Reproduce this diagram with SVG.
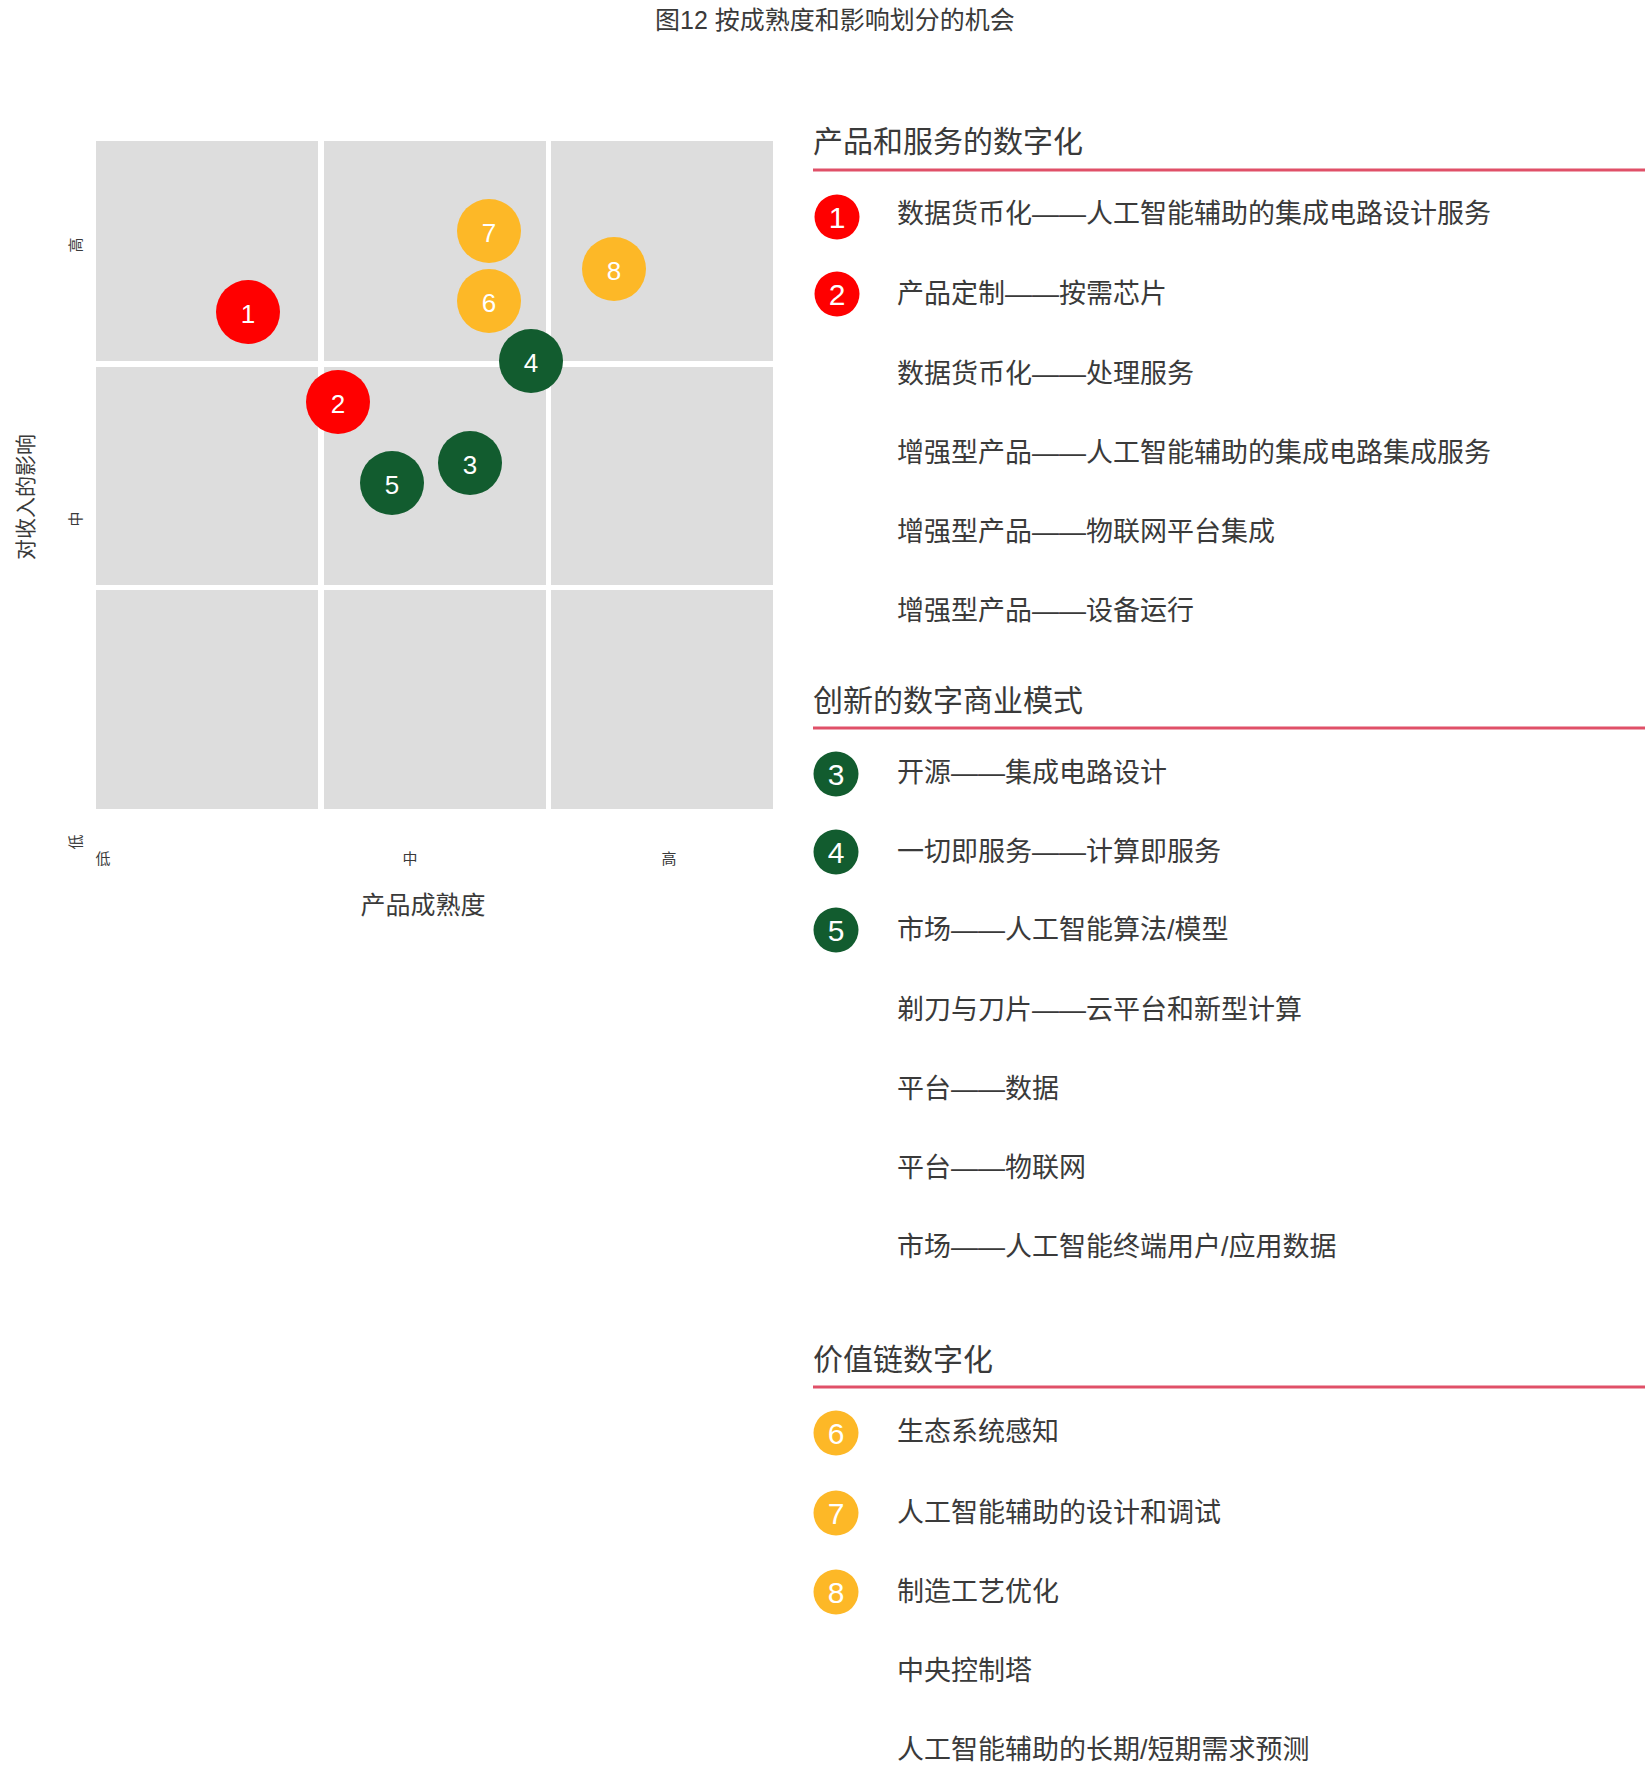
<svg xmlns="http://www.w3.org/2000/svg" width="1648" height="1774" viewBox="0 0 1648 1774">
<style>
text{font-family:"Liberation Sans","Noto Sans CJK SC",sans-serif;fill:#3a3a3a;dominant-baseline:central}
.cell{fill:#dddddd}
.num{fill:#fff;text-anchor:middle;font-size:26px}
.r{fill:#ff0000}.g{fill:#125c2f}.y{fill:#fdb827}
.ax{font-size:15px;text-anchor:middle}
.h{font-size:30px}
.it{font-size:27px}
.ln{stroke:#e05068;stroke-width:3}
.mn{fill:#fff;text-anchor:middle;font-size:30px}
</style>
<text x="835" y="20" font-size="25" text-anchor="middle">图12  按成熟度和影响划分的机会</text>
<g id="grid">
<rect class="cell" x="96" y="141" width="222" height="220"/>
<rect class="cell" x="324" y="141" width="222" height="220"/>
<rect class="cell" x="551" y="141" width="222" height="220"/>
<rect class="cell" x="96" y="367" width="222" height="218"/>
<rect class="cell" x="324" y="367" width="222" height="218"/>
<rect class="cell" x="551" y="367" width="222" height="218"/>
<rect class="cell" x="96" y="590" width="222" height="219"/>
<rect class="cell" x="324" y="590" width="222" height="219"/>
<rect class="cell" x="551" y="590" width="222" height="219"/>
</g>
<g id="axes">
<text class="ax" transform="translate(75,245) rotate(-90)">高</text>
<text class="ax" transform="translate(75,519) rotate(-90)">中</text>
<text class="ax" transform="translate(75,842) rotate(-90)">低</text>
<text font-size="21" text-anchor="middle" transform="translate(25,497) rotate(-90)">对收入的影响</text>
<text class="ax" x="103" y="858">低</text>
<text class="ax" x="410" y="858">中</text>
<text class="ax" x="669" y="858">高</text>
<text font-size="25" x="423" y="905" text-anchor="middle">产品成熟度</text>
</g>
<g id="p1"><circle class="r" cx="248" cy="312" r="32"/><text class="num" x="248" y="314">1</text></g>
<g id="p2"><circle class="r" cx="338" cy="402" r="32"/><text class="num" x="338" y="404">2</text></g>
<g id="p3"><circle class="g" cx="470" cy="463" r="32"/><text class="num" x="470" y="465">3</text></g>
<g id="p4"><circle class="g" cx="531" cy="361" r="32"/><text class="num" x="531" y="363">4</text></g>
<g id="p5"><circle class="g" cx="392" cy="483" r="32"/><text class="num" x="392" y="485">5</text></g>
<g id="p6"><circle class="y" cx="489" cy="301" r="32"/><text class="num" x="489" y="303">6</text></g>
<g id="p7"><circle class="y" cx="489" cy="231" r="32"/><text class="num" x="489" y="233">7</text></g>
<g id="p8"><circle class="y" cx="614" cy="269" r="32"/><text class="num" x="614" y="271">8</text></g>
<g id="legend">
<text class="h" x="813" y="141">产品和服务的数字化</text>
<line class="ln" x1="813" y1="170" x2="1645" y2="170"/>
<circle class="r" cx="837" cy="217" r="22.5"/><text class="mn" x="837" y="217">1</text>
<text class="it" x="897" y="214">数据货币化——人工智能辅助的集成电路设计服务</text>
<circle class="r" cx="837" cy="294" r="22.5"/><text class="mn" x="837" y="294">2</text>
<text class="it" x="897" y="294">产品定制——按需芯片</text>
<text class="it" x="897" y="374">数据货币化——处理服务</text>
<text class="it" x="897" y="453">增强型产品——人工智能辅助的集成电路集成服务</text>
<text class="it" x="897" y="532">增强型产品——物联网平台集成</text>
<text class="it" x="897" y="611">增强型产品——设备运行</text>
<text class="h" x="813" y="700">创新的数字商业模式</text>
<line class="ln" x1="813" y1="728" x2="1645" y2="728"/>
<circle class="g" cx="836" cy="774" r="22.5"/><text class="mn" x="836" y="774">3</text>
<text class="it" x="897" y="773">开源——集成电路设计</text>
<circle class="g" cx="836" cy="852" r="22.5"/><text class="mn" x="836" y="852">4</text>
<text class="it" x="897" y="852">一切即服务——计算即服务</text>
<circle class="g" cx="836" cy="930" r="22.5"/><text class="mn" x="836" y="930">5</text>
<text class="it" x="897" y="930">市场——人工智能算法/模型</text>
<text class="it" x="897" y="1010">剃刀与刀片——云平台和新型计算</text>
<text class="it" x="897" y="1089">平台——数据</text>
<text class="it" x="897" y="1168">平台——物联网</text>
<text class="it" x="897" y="1247">市场——人工智能终端用户/应用数据</text>
<text class="h" x="813" y="1359">价值链数字化</text>
<line class="ln" x1="813" y1="1387" x2="1645" y2="1387"/>
<circle class="y" cx="836" cy="1433" r="22.5"/><text class="mn" x="836" y="1433">6</text>
<text class="it" x="897" y="1432">生态系统感知</text>
<circle class="y" cx="836" cy="1513" r="22.5"/><text class="mn" x="836" y="1513">7</text>
<text class="it" x="897" y="1513">人工智能辅助的设计和调试</text>
<circle class="y" cx="836" cy="1592" r="22.5"/><text class="mn" x="836" y="1592">8</text>
<text class="it" x="897" y="1592">制造工艺优化</text>
<text class="it" x="897" y="1671">中央控制塔</text>
<text class="it" x="897" y="1750">人工智能辅助的长期/短期需求预测</text>
</g>
</svg>
